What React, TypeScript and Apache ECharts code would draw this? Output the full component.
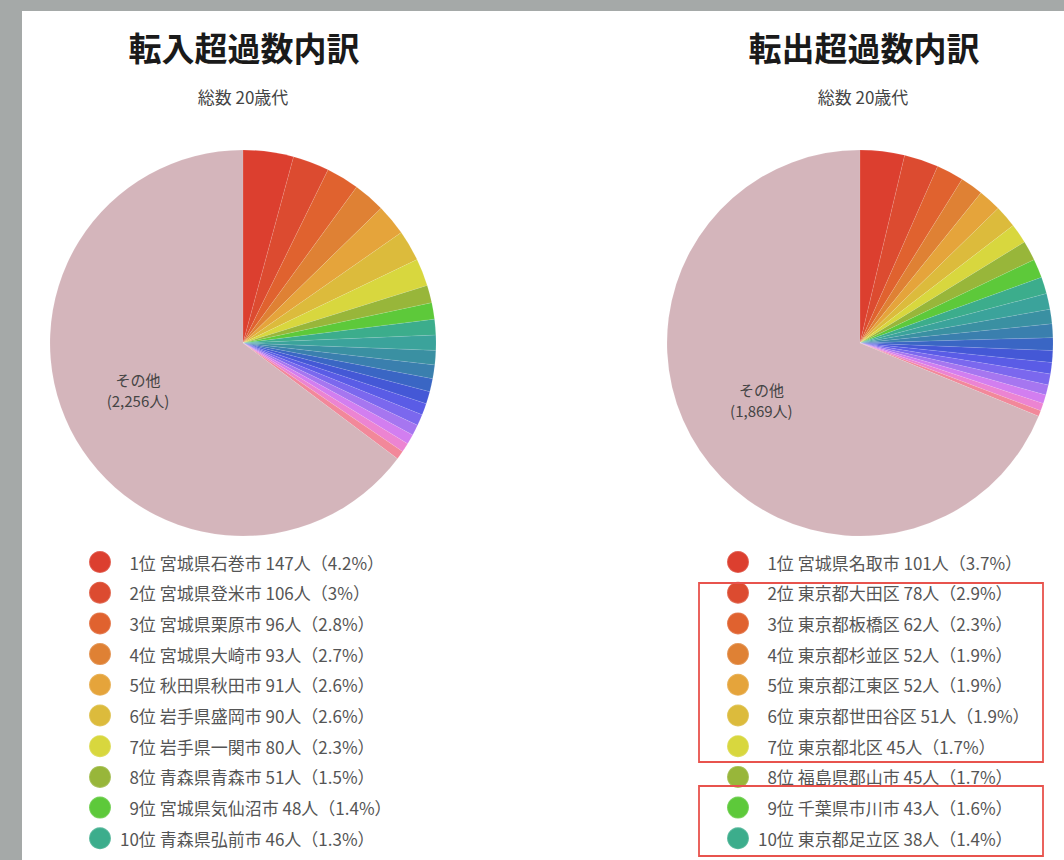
import React, { useEffect, useRef } from "react";
import * as echarts from "echarts";

const inNames = ["宮城県石巻市", "宮城県登米市", "宮城県栗原市", "宮城県大崎市", "秋田県秋田市", "岩手県盛岡市", "岩手県一関市", "青森県青森市", "宮城県気仙沼市", "青森県弘前市"];
const inValues = [147, 106, 96, 93, 91, 90, 80, 51, 48, 46];
const inRestValues = [44, 42, 40, 38, 36, 34, 33, 31, 29, 27, 25];
const inOther = 2256;

const outNames = ["宮城県名取市", "東京都大田区", "東京都板橋区", "東京都杉並区", "東京都江東区", "東京都世田谷区", "東京都北区", "福島県郡山市", "千葉県市川市", "東京都足立区"];
const outValues = [101, 78, 62, 52, 52, 51, 45, 45, 43, 38];
const outRestValues = [36, 33, 31, 29, 27, 26, 25, 23, 20, 17, 13];
const outOther = 1869;

const otherName = "その他";
const titles = ["転入超過数内訳", "転出超過数内訳"];
const subTitle = "総数 20歳代";

const sliceColors = [
  "#dc3f2f", "#dc4b30", "#e0622f", "#df8134", "#e5a43b", "#dcbb3c", "#d8d73e", "#98b63a", "#5dc93a", "#3cad8c",
  "#3ba39b", "#3a90a2", "#3a7fae", "#3a66c4", "#4458d6", "#5a5ce6", "#7b68ee", "#a676f0", "#d27ef0", "#ec84d2", "#f2889a",
];
const otherColor = "#d4b5bb";

const FONT = "'Noto Sans CJK JP', 'Noto Sans', sans-serif";

function buildData(prefix: string, names: string[], values: number[], rest: number[], other: number) {
  const data: any[] = [];
  names.forEach((n, i) => data.push({ name: n, value: values[i], itemStyle: { color: sliceColors[i] } }));
  rest.forEach((v, i) => data.push({ name: `${prefix}${names.length + i + 1}位`, value: v, itemStyle: { color: sliceColors[names.length + i] } }));
  data.push({
    name: otherName,
    value: other,
    itemStyle: { color: otherColor },
    label: { show: true },
  });
  return data;
}

function legendFormatter(names: string[], values: number[], total: number) {
  return (name: string) => {
    const i = names.indexOf(name);
    const pct = Math.round((values[i] / total) * 1000) / 10;
    const rank = i + 1 < 10 ? `\u2007${i + 1}` : `${i + 1}`;
    return `{t|${rank}位 ${name} ${values[i]}人（${pct}%）}`;
  };
}

export default function App() {
  const ref = useRef<HTMLDivElement>(null);
  useEffect(() => {
    if (!ref.current) return;
    const chart = echarts.init(ref.current, undefined, { renderer: "svg" });
    const sum = (a: number[]) => a.reduce((s, v) => s + v, 0);
    const inTotal = sum(inValues) + sum(inRestValues) + inOther;
    const outTotal = sum(outValues) + sum(outRestValues) + outOther;

    const pieCommon = {
      type: "pie",
      radius: 193,
      startAngle: 90,
      clockwise: true,
      silent: true,
      itemStyle: { borderColor: "rgba(255,255,255,0.18)", borderWidth: 0.5 },
      label: {
        show: false,
        position: "inside",
        color: "#444",
        fontSize: 15,
        lineHeight: 21,
        fontFamily: FONT,
        formatter: (p: any) => `${p.name}\n(${p.value.toLocaleString("en-US")}人)`,
      },
      labelLayout: { dx: -16, dy: 2 },
      labelLine: { show: false },
      emphasis: { disabled: true },
    };

    const rich = {
      t: { fontSize: 17, color: "#555", fontFamily: FONT, lineHeight: 20, padding: [0, 0, 0, 4] },
    };

    const legendCommon = {
      orient: "vertical",
      top: 550,
      height: 320,
      padding: 0,
      icon: "circle",
      itemWidth: 22,
      itemHeight: 22,
      itemGap: 6.7,
      selectedMode: false,
      textStyle: { rich },
    };

    chart.setOption({
      animation: false,
      backgroundColor: "#a5a9a8",
      title: [
        { text: titles[0], left: 244, top: 30, textAlign: "center", padding: 0, textStyle: { fontSize: 33, fontWeight: "bold", color: "#1a1a1a", fontFamily: FONT } },
        { text: subTitle, left: 243, top: 88, textAlign: "center", padding: 0, textStyle: { fontSize: 17, fontWeight: "normal", color: "#444", fontFamily: FONT } },
        { text: titles[1], left: 864, top: 30, textAlign: "center", padding: 0, textStyle: { fontSize: 33, fontWeight: "bold", color: "#1a1a1a", fontFamily: FONT } },
        { text: subTitle, left: 863, top: 88, textAlign: "center", padding: 0, textStyle: { fontSize: 17, fontWeight: "normal", color: "#444", fontFamily: FONT } },
      ],
      graphic: [
        { type: "rect", z: -10, silent: true, shape: { x: 22, y: 11, width: 1042, height: 849 }, style: { fill: "#ffffff" } },
        { type: "rect", z: 50, silent: true, shape: { x: 699, y: 583, width: 344, height: 179 }, style: { fill: "none", stroke: "#e8534d", lineWidth: 1.8 } },
        { type: "rect", z: 50, silent: true, shape: { x: 699, y: 786, width: 344, height: 70 }, style: { fill: "none", stroke: "#e8534d", lineWidth: 1.8 } },
      ],
      legend: [
        { ...legendCommon, left: 88, data: inNames, formatter: legendFormatter(inNames, inValues, inTotal) },
        { ...legendCommon, left: 726, data: outNames, formatter: legendFormatter(outNames, outValues, outTotal) },
      ],
      series: [
        { ...pieCommon, name: "in", center: [243, 343], data: buildData("in-", inNames, inValues, inRestValues, inOther) },
        { ...pieCommon, name: "out", center: [860, 343], data: buildData("out-", outNames, outValues, outRestValues, outOther) },
      ],
    });
    return () => chart.dispose();
  }, []);
  return <div ref={ref} style={{ position: "fixed", left: 0, top: 0, width: 1064, height: 860 }} />;
}
